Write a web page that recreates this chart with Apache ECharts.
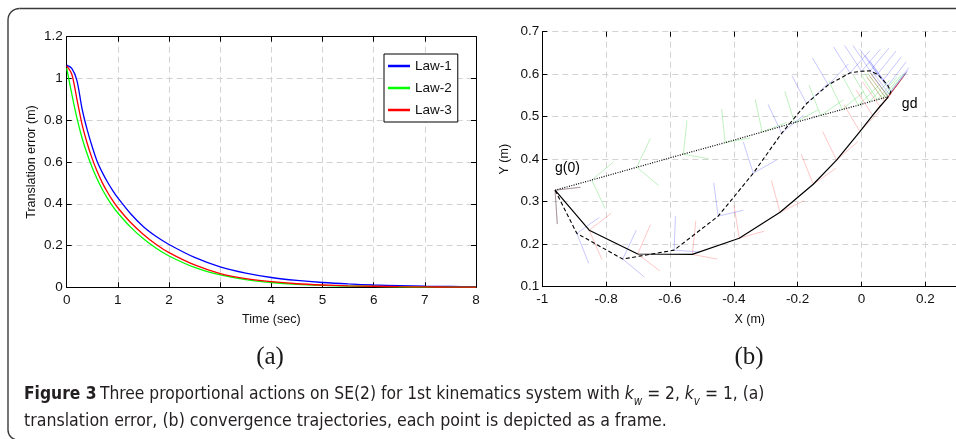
<!DOCTYPE html>
<html>
<head>
<meta charset="utf-8">
<script src="https://cdn.jsdelivr.net/npm/echarts@6/dist/echarts.min.js"></script>
<style>
html, body { margin: 0; padding: 0; background: #fff; }
#chart { width: 956px; height: 439px; }
</style>
</head>
<body>
<div id="chart"></div>
<script>
// (a) translation error vs time
const timeSec = [0, 0.1, 0.2, 0.3, 0.4, 0.5, 0.6, 0.7, 0.8, 0.9, 1.0, 1.25, 1.5, 1.75, 2.0, 2.5, 3.0, 3.5, 4.0, 4.5, 5.0, 5.5, 6.0, 6.5, 7.0, 7.5, 8.0];
const law1 = [1.064, 1.048, 0.99, 0.855, 0.755, 0.672, 0.6, 0.548, 0.503, 0.463, 0.428, 0.352, 0.29, 0.243, 0.205, 0.143, 0.098, 0.068, 0.047, 0.033, 0.023, 0.016, 0.011, 0.008, 0.005, 0.004, 0.003];
const law2 = [1.05, 0.925, 0.81, 0.715, 0.638, 0.572, 0.516, 0.467, 0.425, 0.388, 0.356, 0.288, 0.232, 0.187, 0.15, 0.095, 0.059, 0.037, 0.023, 0.014, 0.009, 0.006, 0.004, 0.002, 0.001, 0.001, 0.001];
const law3 = [1.06, 1.02, 0.9, 0.78, 0.69, 0.615, 0.552, 0.499, 0.454, 0.415, 0.381, 0.31, 0.253, 0.205, 0.166, 0.107, 0.066, 0.042, 0.027, 0.017, 0.011, 0.007, 0.005, 0.003, 0.002, 0.001, 0.001];

// (b) trajectories in the plane, heading of each frame in degrees
const solidX = [-0.96, -0.853, -0.701, -0.530, -0.383, -0.255, -0.151, -0.078, -0.005, 0.035, 0.058, 0.072, 0.079, 0.084];
const solidY = [0.327, 0.233, 0.177, 0.176, 0.214, 0.275, 0.341, 0.398, 0.465, 0.503, 0.524, 0.536, 0.542, 0.547];
const solidTheta = [-85, -60, -30, -8, 12, 20, 28, 33, 38, 41, 43, 44, 44.5, 45];

const dashX = [-0.96, -0.892, -0.748, -0.587, -0.449, -0.339, -0.25, -0.172, -0.104, -0.036, 0.0, 0.027, 0.05, 0.068, 0.083, 0.092, 0.088, 0.084];
const dashY = [0.327, 0.2255, 0.165, 0.186, 0.266, 0.367, 0.461, 0.531, 0.575, 0.603, 0.607, 0.608, 0.600, 0.586, 0.573, 0.559, 0.552, 0.547];
const dashTheta = [-85, -62, -32, -3, 10, 23, 32, 35, 38, 40, 41, 42, 43, 44, 44.5, 45, 45, 45];

const dotX = [-0.96, -0.845, -0.704, -0.558, -0.427, -0.311, -0.21, -0.128, -0.06, -0.01, 0.025, 0.05, 0.065, 0.075, 0.084];
const dotY = [0.327, 0.351, 0.381, 0.412, 0.439, 0.464, 0.486, 0.503, 0.517, 0.527, 0.535, 0.540, 0.543, 0.545, 0.547];
const dotTheta = [-85, -58, -32, -8, 8, 16, 22, 27, 32, 36, 39, 41, 43, 44, 45];

// text labels of the start and goal poses
const poseLabels = [
  { name: 'g(0)', value: [-0.962, 0.379] },
  { name: 'gd', value: [0.125, 0.53] },
];

const pairs = (xs, ys) => xs.map((x, i) => [x, ys[i]]);
const triples = (xs, ys, ts) => xs.map((x, i) => [x, ys[i], ts[i]]);

// each point is drawn as a small frame (two axes)
const FRAME_LEN = 0.08;
function frameItem(color) {
  return function (params, api) {
    const x = api.value(0);
    const y = api.value(1);
    const th = api.value(2) * Math.PI / 180;
    const p0 = api.coord([x, y]);
    const p1 = api.coord([x + FRAME_LEN * Math.cos(th), y + FRAME_LEN * Math.sin(th)]);
    const p2 = api.coord([x - FRAME_LEN * Math.sin(th), y + FRAME_LEN * Math.cos(th)]);
    const style = { stroke: color, lineWidth: 1 };
    return {
      type: 'group',
      children: [
        { type: 'line', shape: { x1: p0[0], y1: p0[1], x2: p1[0], y2: p1[1] }, style },
        { type: 'line', shape: { x1: p0[0], y1: p0[1], x2: p2[0], y2: p2[1] }, style },
      ],
    };
  };
}

const font = '"Liberation Sans", Arial, Helvetica, sans-serif';
const capFont = '"DejaVu Sans Condensed", "Liberation Sans Narrow", sans-serif';
const tickLabel = { fontFamily: font, fontSize: 13.5, color: '#111' };
const nameStyle = { fontFamily: font, fontSize: 12.5, color: '#111' };
const splitDash = { show: true, lineStyle: { color: '#d2d2d2', type: [6, 4], width: 1 } };
const blackLine = { show: true, onZero: false, lineStyle: { color: '#000', width: 1 } };
const tickIn = { show: true, inside: true, length: 5, lineStyle: { color: '#000', width: 1 } };
const frameStroke = { fill: 'none', stroke: '#3a3a3a', lineWidth: 1.4 };

const chart = echarts.init(document.getElementById('chart'), null, { renderer: 'canvas' });

const option = {
  backgroundColor: '#fff',
  animation: false,
  grid: [
    { left: 66.7, top: 36.7, width: 409.3, height: 250.6, outerBoundsMode: 'none' },
    { left: 542.3, top: 31.7, width: 414.9, height: 255, outerBoundsMode: 'none' },
  ],
  legend: {
    data: ['Law-1', 'Law-2', 'Law-3'],
    orient: 'vertical',
    left: 384,
    top: 54,
    padding: [5, 6, 5, 4],
    itemGap: 8,
    itemWidth: 22,
    itemHeight: 2.5,
    icon: 'rect',
    borderColor: '#000',
    borderWidth: 1,
    borderRadius: 0,
    backgroundColor: '#fff',
    textStyle: { fontFamily: font, fontSize: 13.5, color: '#111' },
  },
  xAxis: [
    {
      gridIndex: 0, type: 'value', min: 0, max: 8, interval: 1,
      axisLine: blackLine, axisTick: tickIn, splitLine: splitDash,
      axisLabel: Object.assign({ margin: 6 }, tickLabel),
      name: 'Time (sec)', nameLocation: 'middle', nameGap: 26, nameTextStyle: nameStyle,
    },
    {
      gridIndex: 0, type: 'value', position: 'top', min: 0, max: 8, interval: 1,
      axisLine: blackLine, axisTick: tickIn, splitLine: { show: false }, axisLabel: { show: false },
    },
    {
      gridIndex: 1, type: 'value', min: -1, max: 0.3, interval: 0.2,
      axisLine: blackLine, axisTick: tickIn, splitLine: splitDash,
      axisLabel: Object.assign({ margin: 6, showMaxLabel: false }, tickLabel),
      name: 'X (m)', nameLocation: 'middle', nameGap: 26, nameTextStyle: nameStyle,
    },
    {
      gridIndex: 1, type: 'value', position: 'top', min: -1, max: 0.3, interval: 0.2,
      axisLine: { show: false, onZero: false }, axisTick: tickIn, splitLine: { show: false }, axisLabel: { show: false },
    },
  ],
  yAxis: [
    {
      gridIndex: 0, type: 'value', min: 0, max: 1.2, interval: 0.2,
      axisLine: blackLine, axisTick: tickIn, splitLine: splitDash,
      axisLabel: Object.assign({ margin: 4 }, tickLabel),
      name: 'Translation error (m)', nameLocation: 'middle', nameGap: 29, nameRotate: 90, nameTextStyle: nameStyle,
    },
    {
      gridIndex: 0, type: 'value', position: 'right', min: 0, max: 1.2, interval: 0.2,
      axisLine: blackLine, axisTick: tickIn, splitLine: { show: false }, axisLabel: { show: false },
    },
    {
      gridIndex: 1, type: 'value', min: 0.1, max: 0.7, interval: 0.1,
      axisLine: blackLine, axisTick: tickIn, splitLine: splitDash,
      axisLabel: Object.assign({ margin: 3 }, tickLabel),
      name: 'Y (m)', nameLocation: 'middle', nameGap: 31, nameRotate: 90, nameTextStyle: nameStyle,
    },
  ],
  series: [
    {
      name: 'Law-1', type: 'line', xAxisIndex: 0, yAxisIndex: 0, data: pairs(timeSec, law1),
      showSymbol: false, smooth: 0.3, color: '#0000ff',
      lineStyle: { width: 1.3, color: '#0000ff' },
    },
    {
      name: 'Law-2', type: 'line', xAxisIndex: 0, yAxisIndex: 0, data: pairs(timeSec, law2),
      showSymbol: false, smooth: 0.3, color: '#00ff00',
      lineStyle: { width: 1.3, color: '#00ff00' },
    },
    {
      name: 'Law-3', type: 'line', xAxisIndex: 0, yAxisIndex: 0, data: pairs(timeSec, law3),
      showSymbol: false, smooth: 0.3, color: '#ff0000',
      lineStyle: { width: 1.3, color: '#ff0000' },
    },
    {
      type: 'custom', xAxisIndex: 2, yAxisIndex: 2, silent: true, z: 1,
      data: triples(dotX, dotY, dotTheta), renderItem: frameItem('rgba(0,200,0,0.25)'),
    },
    {
      type: 'custom', xAxisIndex: 2, yAxisIndex: 2, silent: true, z: 1,
      data: triples(dashX, dashY, dashTheta), renderItem: frameItem('rgba(0,0,255,0.22)'),
    },
    {
      type: 'custom', xAxisIndex: 2, yAxisIndex: 2, silent: true, z: 1,
      data: triples(solidX, solidY, solidTheta), renderItem: frameItem('rgba(255,0,0,0.22)'),
    },
    {
      type: 'line', xAxisIndex: 2, yAxisIndex: 2, data: pairs(dotX, dotY), z: 3,
      showSymbol: false, lineStyle: { width: 1.2, color: '#000', type: [1, 1.4] },
    },
    {
      type: 'line', xAxisIndex: 2, yAxisIndex: 2, data: pairs(dashX, dashY), z: 3,
      showSymbol: false, lineStyle: { width: 1.1, color: '#000', type: [4, 2.5] },
    },
    {
      type: 'line', xAxisIndex: 2, yAxisIndex: 2, data: pairs(solidX, solidY), z: 3,
      showSymbol: false, lineStyle: { width: 1.2, color: '#000' },
    },
    {
      type: 'scatter', xAxisIndex: 2, yAxisIndex: 2, symbolSize: 1, silent: true, z: 4,
      itemStyle: { color: 'rgba(0,0,0,0)' },
      data: poseLabels,
      label: {
        show: true, formatter: '{b}', position: 'right', distance: 0,
        fontFamily: font, fontSize: 14, color: '#000', opacity: 1,
      },
      labelLayout: { hideOverlap: false },
    },
  ],
  graphic: [
    // rounded figure border: left and top edges
    { type: 'polyline', silent: true, z: -1, shape: { points: [[8, 20], [8, 430]] }, style: frameStroke },
    { type: 'polyline', silent: true, z: -1, shape: { points: [[19.5, 8.5], [980, 8.5]] }, style: frameStroke },
    { type: 'arc', silent: true, z: -1,
      shape: { cx: 19.5, cy: 20, r: 11.5, startAngle: Math.PI, endAngle: Math.PI * 1.5, clockwise: true },
      style: frameStroke },
    { type: 'arc', silent: true, z: -1,
      shape: { cx: 18, cy: 430, r: 10, startAngle: Math.PI * 0.5, endAngle: Math.PI, clockwise: true },
      style: frameStroke },
    {
      type: 'text', silent: true,
      style: { text: '(a)', x: 270, y: 357, align: 'center', verticalAlign: 'middle',
        font: '25px "Liberation Serif", "Times New Roman", serif', fill: '#1a1a1a' },
    },
    {
      type: 'text', silent: true,
      style: { text: '(b)', x: 749, y: 357, align: 'center', verticalAlign: 'middle',
        font: '25px "Liberation Serif", "Times New Roman", serif', fill: '#1a1a1a' },
    },
    {
      type: 'text', silent: true,
      style: {
        x: 24, y: 395, align: 'left', verticalAlign: 'middle',
        text: '{b|Figure 3} {n|Three proportional actions on SE(2) for 1st kinematics system with }{i|k}{s|w}{n| = 2, }{i|k}{s|v}{n| = 1, (a)}',
        rich: {
          b: { fontFamily: capFont, fontSize: 17.3, fontWeight: 'bold', fill: '#231f20', lineHeight: 26 },
          n: { fontFamily: capFont, fontSize: 17.3, fill: '#231f20', lineHeight: 26 },
          i: { fontFamily: capFont, fontSize: 17.3, fontStyle: 'italic', fill: '#231f20', lineHeight: 26 },
          s: { fontFamily: capFont, fontSize: 11.5, fontStyle: 'italic', fill: '#231f20', lineHeight: 26, verticalAlign: 'bottom' },
        },
      },
    },
    {
      type: 'text', silent: true,
      style: {
        x: 24, y: 421.7, align: 'left', verticalAlign: 'middle',
        text: 'translation error, (b) convergence trajectories, each point is depicted as a frame.',
        font: '17.6px "DejaVu Sans Condensed", "Liberation Sans Narrow", sans-serif', fill: '#231f20',
      },
    },
  ],
};

chart.setOption(option);
</script>
</body>
</html>
